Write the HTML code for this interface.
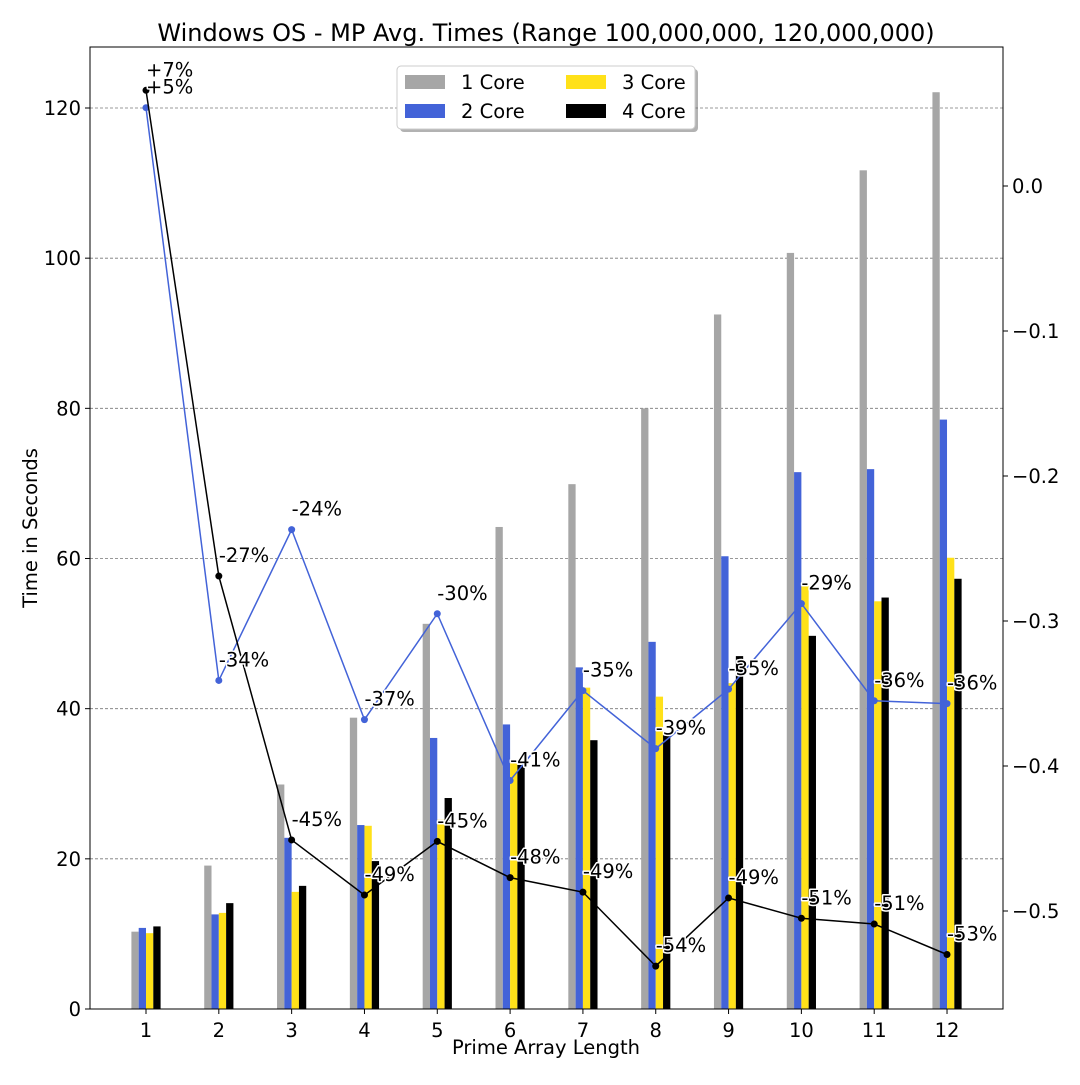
<!DOCTYPE html>
<html><head><meta charset="utf-8"><style>
body{margin:0;background:#fff}
svg text{font-family:"DejaVu Sans","Liberation Sans",sans-serif}
.lbl{font-size:19.5px;fill:#000;paint-order:stroke;stroke:#fff;stroke-width:3px;stroke-linejoin:round}
</style></head><body>
<svg id="c" width="1080" height="1080" xmlns="http://www.w3.org/2000/svg"></svg>
<script>
const categories=[1,2,3,4,5,6,7,8,9,10,11,12];
const core1=[10.3,19.1,29.9,38.8,51.3,64.2,69.9,80.0,92.5,100.7,111.7,122.1];
const core2=[10.8,12.6,22.8,24.5,36.1,37.9,45.5,48.9,60.3,71.5,71.9,78.5];
const core3=[10.1,12.8,15.6,24.4,25.2,32.8,42.8,41.6,43.4,56.5,54.3,60.1];
const core4=[11.0,14.1,16.4,19.7,28.1,32.5,35.8,36.5,47.0,49.7,54.8,57.3];
const pct2=[0.054,-0.341,-0.237,-0.368,-0.295,-0.410,-0.348,-0.388,-0.347,-0.288,-0.355,-0.357];
const pct4=[0.066,-0.269,-0.451,-0.489,-0.452,-0.477,-0.487,-0.538,-0.491,-0.505,-0.509,-0.530];
const lbl2=["+5%","-34%","-24%","-37%","-30%","-41%","-35%","-39%","-35%","-29%","-36%","-36%"];
const lbl4=["+7%","-27%","-45%","-49%","-45%","-48%","-49%","-54%","-49%","-51%","-51%","-53%"];
const leftTicks=[0,20,40,60,80,100,120];
const rightTicks=[0.0,-0.1,-0.2,-0.3,-0.4,-0.5];

const L=90,R=1003,T=47,B=1009;
const y=v=>1009-v*(901/120);
const y2=v=>186-v*1450;
const x=c=>146+(c-1)*72.82;
const svg=document.getElementById('c');
const NS='http://www.w3.org/2000/svg';
function el(t,a,p){const e=document.createElementNS(NS,t);for(const k in a)e.setAttribute(k,a[k]);(p||svg).appendChild(e);return e;}

leftTicks.forEach(v=>{if(v>0){const g=el('line',{x1:L,x2:R,y1:y(v),y2:y(v),stroke:'#777','stroke-width':0.8,'stroke-dasharray':'3,2'});

}});
const w=7.3;
const series=[[core1,'#a6a6a6'],[core2,'#4363d8'],[core3,'#ffe119'],[core4,'#000000']];
series.forEach(([d,col],si)=>{d.forEach((v,i)=>{const bx=x(categories[i])+(si-2)*w;
const r=el('rect',{x:bx,y:y(v),width:w,height:y(0)-y(v),fill:col});

});});
function line(d,col,name){const pts=d.map((v,i)=>x(categories[i])+','+y2(v)).join(' ');
const p=el('polyline',{points:pts,fill:'none',stroke:col,'stroke-width':1.5});


d.forEach((v,i)=>{const c=el('circle',{cx:x(categories[i]),cy:y2(v),r:3.5,fill:col});

});}
line(pct2,'#4363d8','pct-line-2core');
line(pct4,'#000','pct-line-4core');
function labels(d,l,name){d.forEach((v,i)=>{const t=el('text',{x:x(categories[i]),y:y2(v)-14,class:'lbl'});t.textContent=l[i];

});}
labels(pct2,lbl2,'pct-label-2core');
labels(pct4,lbl4,'pct-label-4core');
el('rect',{x:L,y:T,width:R-L,height:B-T,fill:'none',stroke:'#000','stroke-width':1});
leftTicks.forEach(v=>{el('line',{x1:L-5,x2:L,y1:y(v),y2:y(v),stroke:'#000'});
const t=el('text',{x:L-9,y:y(v)+7,'text-anchor':'end','font-size':19.5});t.textContent=v;

});
rightTicks.forEach(v=>{el('line',{x1:R,x2:R+5,y1:y2(v),y2:y2(v),stroke:'#000'});
const t=el('text',{x:R+9,y:y2(v)+7,'font-size':19.5});t.textContent=(v<0?'\u2212':'')+Math.abs(v).toFixed(1);

});
categories.forEach(c=>{el('line',{x1:x(c),x2:x(c),y1:B,y2:B+5,stroke:'#000'});
const t=el('text',{x:x(c),y:B+28,'text-anchor':'middle','font-size':19.5});t.textContent=c;

});
</script>
<svg width="1080" height="1080" style="position:absolute;left:0;top:0" xmlns="http://www.w3.org/2000/svg">
<text x="546" y="41" text-anchor="middle" font-size="24">Windows OS - MP Avg. Times (Range 100,000,000, 120,000,000)</text>
<text x="546" y="1054" text-anchor="middle" font-size="19.5">Prime Array Length</text>
<text transform="translate(37,528) rotate(-90)" text-anchor="middle" font-size="19.5">Time in Seconds</text>
<g>
<rect x="400" y="69" width="298" height="63" rx="4" fill="#666" opacity="0.5"/>
<rect x="397" y="66" width="298" height="63" rx="4" fill="#fff" stroke="#ccc"/>
<rect x="405" y="75" width="40" height="14" fill="#a6a6a6"/>
<text x="461" y="89" font-size="19.5">1 Core</text>
<rect x="405" y="104" width="40" height="14" fill="#4363d8"/>
<text x="461" y="118" font-size="19.5">2 Core</text>
<rect x="566" y="75" width="40" height="14" fill="#ffe119"/>
<text x="622" y="89" font-size="19.5">3 Core</text>
<rect x="566" y="104" width="40" height="14" fill="#000"/>
<text x="622" y="118" font-size="19.5">4 Core</text>
</g>
</svg>
</body></html>
